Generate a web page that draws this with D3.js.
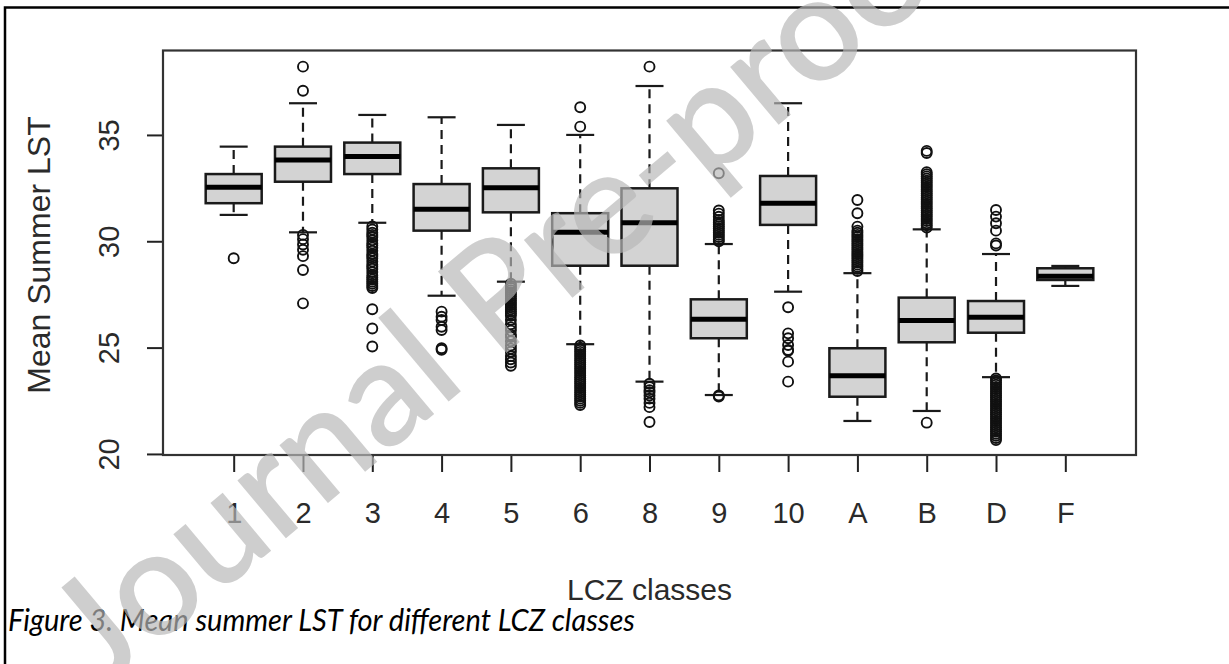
<!DOCTYPE html>
<html>
<head>
<meta charset="utf-8">
<script src="https://d3js.org/d3.v7.min.js"></script>
<style>
  body { margin: 0; background: #fff; }
  svg { display: block; }
  .axis text { font-family: "Liberation Sans", Arial, sans-serif; font-size: 29px; fill: #2a2a2a; }
  .axis path { display: none; }
  .axis line { stroke: #222; stroke-width: 2px; }
</style>
</head>
<body>
<script>
// LCZ classes on the x axis
var classes = ["1", "2", "3", "4", "5", "6", "8", "9", "10", "A", "B", "D", "F"];

// box statistics (mean summer LST)
var lowWhisker    = [31.24, 30.42, 30.87, 27.44, 28.10, 25.16, 23.40, 22.77, 27.63, 21.55, 22.02, 23.61, 27.90];
var lowerQuartile = [31.79, 32.80, 33.16, 30.50, 31.36, 28.85, 28.85, 25.44, 30.77, 22.69, 25.25, 25.70, 28.18];
var medians       = [32.54, 33.82, 33.98, 31.50, 32.52, 30.42, 30.87, 26.33, 31.79, 23.68, 26.27, 26.43, 28.36];
var upperQuartile = [33.16, 34.45, 34.64, 32.69, 33.43, 31.32, 32.49, 27.27, 33.07, 24.97, 27.35, 27.19, 28.73];
var highWhisker   = [34.45, 36.49, 35.94, 35.83, 35.47, 35.00, 37.30, 29.87, 36.49, 28.50, 30.56, 29.40, 28.84];

// outliers of every class
var outliers1 = [29.2];
var outliers2 = [38.21, 37.08, 30.3, 30.1, 29.85, 29.6, 29.3, 28.65, 27.08];
var outliers3 = [30.7, 30.55, 30.4, 30.3, 30.2, 30.05, 29.9, 29.8, 29.7, 29.55, 29.4, 29.3, 29.2, 29.05, 28.9, 28.8, 28.7, 28.55, 28.4, 28.3, 28.2, 28.1, 28.0, 27.9, 27.8, 26.8, 25.9, 25.05];
var outliers4 = [26.69, 26.45, 26.3, 25.98, 25.83, 24.97, 24.9];
var outliers5 = [28.0, 27.9, 27.8, 27.7, 27.6, 27.5, 27.4, 27.3, 27.2, 27.1, 27.0, 26.9, 26.8, 26.7, 26.6, 26.5, 26.3, 26.1, 25.95, 25.8, 25.6, 25.5, 25.3, 25.1, 24.95, 24.8, 24.6, 24.45, 24.3, 24.15];
var outliers6 = [36.3, 35.39, 25.1, 25.0, 24.9, 24.8, 24.7, 24.6, 24.5, 24.4, 24.3, 24.2, 24.1, 24.0, 23.9, 23.8, 23.7, 23.6, 23.5, 23.4, 23.3, 23.2, 23.1, 23.0, 22.9, 22.8, 22.7, 22.6, 22.5, 22.4, 22.3];
var outliers8 = [38.21, 23.3, 23.15, 23.0, 22.9, 22.75, 22.6, 22.4, 22.2, 21.5];
var outliers9 = [33.2, 31.45, 31.3, 31.15, 31.0, 30.9, 30.8, 30.7, 30.6, 30.5, 30.4, 30.3, 30.2, 30.1, 30.0, 22.75, 22.7];
var outliers10 = [26.9, 25.67, 25.44, 25.12, 24.89, 24.85, 24.34, 23.4];
var outliersA = [31.94, 31.32, 30.69, 30.5, 30.4, 30.3, 30.2, 30.1, 30.0, 29.9, 29.8, 29.7, 29.6, 29.5, 29.4, 29.3, 29.2, 29.1, 29.0, 28.9, 28.8, 28.7, 28.6];
var outliersB = [34.25, 34.15, 33.25, 33.15, 33.05, 32.95, 32.85, 32.75, 32.65, 32.55, 32.45, 32.35, 32.25, 32.15, 32.05, 31.95, 31.85, 31.75, 31.65, 31.55, 31.45, 31.35, 31.25, 31.15, 31.05, 30.95, 30.85, 30.75, 30.65, 21.47];
var outliersD = [31.47, 31.16, 30.85, 30.5, 29.9, 29.8, 23.55, 23.45, 23.35, 23.25, 23.15, 23.05, 22.95, 22.85, 22.75, 22.65, 22.55, 22.45, 22.35, 22.25, 22.15, 22.05, 21.95, 21.85, 21.75, 21.65, 21.55, 21.45, 21.35, 21.25, 21.15, 21.05, 20.95, 20.85, 20.75, 20.65];
var outliersF = [];

var allOutliers = [outliers1, outliers2, outliers3, outliers4, outliers5, outliers6, outliers8,
                   outliers9, outliers10, outliersA, outliersB, outliersD, outliersF];

var yTicks = [20, 25, 30, 35];

// plot frame
var plotLeft = 163, plotRight = 1136, plotTop = 50.5, plotBottom = 455;

var svg = d3.select("body")
  .append("svg")
  .attr("width", 1229)
  .attr("height", 664);

svg.append("rect")
  .attr("width", 1229)
  .attr("height", 664)
  .attr("fill", "#fff");

// outer figure border (left and top only, the rest is off the page)
svg.append("path")
  .attr("d", "M5,664 V7.5 H1229")
  .attr("fill", "none")
  .attr("stroke", "#000")
  .attr("stroke-width", 2.5);

// scales
var x = d3.scalePoint()
  .domain(classes)
  .range([plotLeft, plotRight])
  .padding(1.02);

var y = d3.scaleLinear()
  .domain([19.95, 38.97])
  .range([plotBottom, plotTop]);

var boxWidth = 56;

// x axis
var xAxis = svg.append("g")
  .attr("class", "axis")
  .attr("transform", "translate(0," + plotBottom + ")")
  .call(d3.axisBottom(x).tickSize(17).tickSizeOuter(0));

xAxis.selectAll("text")
  .attr("y", 68)
  .attr("dy", 0);

// y axis, labels parallel to the axis
var yAxis = svg.append("g")
  .attr("class", "axis")
  .attr("transform", "translate(" + plotLeft + ",0)")
  .call(d3.axisLeft(y).tickValues(yTicks).tickSize(16).tickSizeOuter(0));

yAxis.selectAll("text")
  .attr("x", 0)
  .attr("dy", 0)
  .attr("text-anchor", "middle")
  .attr("transform", "translate(-44.5,0) rotate(-90)");

// boxes
var boxes = svg.selectAll(".box")
  .data(classes)
  .enter()
  .append("g")
  .attr("class", "box")
  .attr("transform", function(d) { return "translate(" + x(d) + ",0)"; });

// dashed whiskers
boxes.append("line")
  .attr("y1", function(d, i) { return y(upperQuartile[i]); })
  .attr("y2", function(d, i) { return y(highWhisker[i]); })
  .attr("stroke", "#1a1a1a")
  .attr("stroke-width", 2.2)
  .attr("stroke-dasharray", "9,6");

boxes.append("line")
  .attr("y1", function(d, i) { return y(lowerQuartile[i]); })
  .attr("y2", function(d, i) { return y(lowWhisker[i]); })
  .attr("stroke", "#1a1a1a")
  .attr("stroke-width", 2.2)
  .attr("stroke-dasharray", "9,6");

// staples
[highWhisker, lowWhisker].forEach(function(arr) {
  boxes.append("line")
    .attr("x1", -boxWidth / 4)
    .attr("x2", boxWidth / 4)
    .attr("y1", function(d, i) { return y(arr[i]); })
    .attr("y2", function(d, i) { return y(arr[i]); })
    .attr("stroke", "#1a1a1a")
    .attr("stroke-width", 2.2);
});

// box body
boxes.append("rect")
  .attr("x", -boxWidth / 2)
  .attr("width", boxWidth)
  .attr("y", function(d, i) { return y(upperQuartile[i]); })
  .attr("height", function(d, i) { return y(lowerQuartile[i]) - y(upperQuartile[i]); })
  .attr("fill", "#d3d3d3")
  .attr("stroke", "#1a1a1a")
  .attr("stroke-width", 2.5);

// median
boxes.append("line")
  .attr("x1", -boxWidth / 2)
  .attr("x2", boxWidth / 2)
  .attr("y1", function(d, i) { return y(medians[i]); })
  .attr("y2", function(d, i) { return y(medians[i]); })
  .attr("stroke", "#000")
  .attr("stroke-width", 5);

// outlier circles
boxes.selectAll("circle")
  .data(function(d, i) { return allOutliers[i]; })
  .enter()
  .append("circle")
  .attr("cy", function(v) { return y(v); })
  .attr("r", 5)
  .attr("fill", "none")
  .attr("stroke", "#111")
  .attr("stroke-width", 1.9);

// plot frame
svg.append("rect")
  .attr("x", plotLeft)
  .attr("y", plotTop)
  .attr("width", plotRight - plotLeft)
  .attr("height", plotBottom - plotTop)
  .attr("fill", "none")
  .attr("stroke", "#333")
  .attr("stroke-width", 2.2);

// axis titles
svg.append("text")
  .attr("transform", "translate(50,255) rotate(-90)")
  .attr("text-anchor", "middle")
  .style("font-family", "'Liberation Sans', Arial, sans-serif")
  .style("font-size", "32px")
  .style("fill", "#2a2a2a")
  .text("Mean Summer LST");

svg.append("text")
  .attr("x", (plotLeft + plotRight) / 2)
  .attr("y", 600)
  .attr("text-anchor", "middle")
  .style("font-family", "'Liberation Sans', Arial, sans-serif")
  .style("font-size", "30px")
  .style("fill", "#2a2a2a")
  .text("LCZ classes");

// figure caption
svg.append("text")
  .attr("x", 8)
  .attr("y", 631)
  .attr("textLength", 627)
  .attr("lengthAdjust", "spacingAndGlyphs")
  .style("font-family", "Lato, 'Open Sans', sans-serif")
  .style("font-style", "italic")
  .style("font-size", "30px")
  .style("fill", "#000")
  .text("Figure 3. Mean summer LST for different LCZ classes");

// watermark across the page
svg.append("text")
  .attr("transform", "translate(505,280) rotate(-40)")
  .attr("text-anchor", "middle")
  .attr("dominant-baseline", "central")
  .style("font-family", "Lato, 'Open Sans', sans-serif")
  .style("font-size", "148px")
  .style("font-weight", "600")
  .style("fill", "#b8b8b8")
  .style("opacity", 0.68)
  .text("Journal Pre-proof");
</script>
</body>
</html>
